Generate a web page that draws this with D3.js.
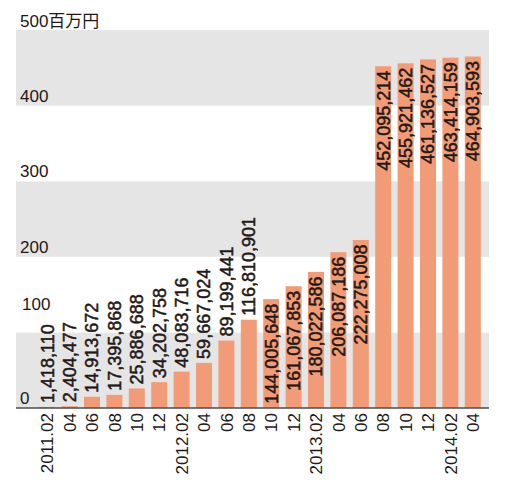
<html>
<head>
<meta charset="utf-8">
<script src="https://d3js.org/d3.v7.min.js"></script>
<style>
body { margin:0; background:#fff; }
</style>
</head>
<body>
<script>
var width = 505;
var height = 481;

var months = ["2011.02","04","06","08","10","12","2012.02","04","06","08","10","12",
              "2013.02","04","06","08","10","12","2014.02","04"];
var values = [1418110, 2404477, 14913672, 17395868, 25886688, 34202758, 48083716,
              59667024, 89199441, 116810901, 144005648, 161067853, 180022586,
              206087186, 222275008, 452095214, 455921462, 461136527, 463414159, 464903593];
var yTicks = [0, 100, 200, 300, 400, 500];
var unitLabel = "百万円";

// plot area
var pLeft = 16, pRight = 489, pTop = 30, pBottom = 408;

var svg = d3.select("body").append("svg")
    .attr("width", width)
    .attr("height", height);

var x = d3.scaleBand()
    .domain(d3.range(values.length))
    .range([36, 484])
    .paddingInner(0.286)
    .paddingOuter(0.143);
var y = d3.scaleLinear()
    .domain([0, 500])
    .range([pBottom, pTop]);

// alternating bands
svg.append("g")
  .selectAll("rect")
  .data(yTicks.slice(0, -1))
  .enter().append("rect")
    .attr("x", pLeft)
    .attr("width", pRight - pLeft)
    .attr("y", function(d) { return y(d + 100); })
    .attr("height", function(d) { return y(d) - y(d + 100); })
    .attr("fill", function(d, i) { return i % 2 == 0 ? "#e5e5e5" : "#ffffff"; });

// tick labels ("100" is lifted clear of the first value labels)
svg.append("g")
  .selectAll("text")
  .data(yTicks)
  .enter().append("text")
    .attr("x", function(d) { return d == 100 ? 22 : 20; })
    .attr("y", function(d) {
      if (d == 100) return y(d) - 22;
      return y(d) - (d == 500 ? 3 : 4);
    })
    .attr("font-family", "Liberation Sans, Noto Sans CJK JP")
    .attr("font-size", 17)
    .attr("fill", "#231815")
    .text(function(d) { return d == 500 ? d + unitLabel : d; });

// bars
svg.append("g")
  .selectAll("rect")
  .data(values)
  .enter().append("rect")
    .attr("x", function(d, i) { return x(i); })
    .attr("y", function(d) { return y(d / 1e6); })
    .attr("width", x.bandwidth())
    .attr("height", function(d) { return pBottom - y(d / 1e6); })
    .attr("fill", "#f29c77");

// value labels (above small bars, inside tall ones)
svg.append("g")
  .selectAll("text")
  .data(values)
  .enter().append("text")
    .attr("transform", function(d, i) {
      var cx = x(i) + x.bandwidth() / 2;
      var inside = d > 130e6;
      var ty = inside ? y(d / 1e6) + 4.5 : y(d / 1e6) - 4;
      return "translate(" + cx + "," + ty + ") rotate(-90)";
    })
    .attr("text-anchor", function(d) { return d > 130e6 ? "end" : "start"; })
    .attr("dy", "0.36em")
    .attr("font-family", "Liberation Sans")
    .attr("font-size", 18)
    .attr("fill", "#231815")
    .attr("stroke", "#231815")
    .attr("stroke-width", 0.5)
    .text(function(d) { return d3.format(",")(d); });

// baseline
svg.append("line")
    .attr("x1", pLeft).attr("x2", pRight)
    .attr("y1", pBottom).attr("y2", pBottom)
    .attr("stroke", "#4d4d4d")
    .attr("stroke-width", 1.5);

// month labels
svg.append("g")
  .selectAll("text")
  .data(months)
  .enter().append("text")
    .attr("transform", function(d, i) {
      return "translate(" + (x(i) + x.bandwidth() / 2) + "," + 413 + ") rotate(-90)";
    })
    .attr("text-anchor", "end")
    .attr("dy", "0.36em")
    .attr("font-family", "Liberation Sans")
    .attr("font-size", 17)
    .attr("fill", "#231815")
    .text(function(d) { return d; });
</script>
</body>
</html>
